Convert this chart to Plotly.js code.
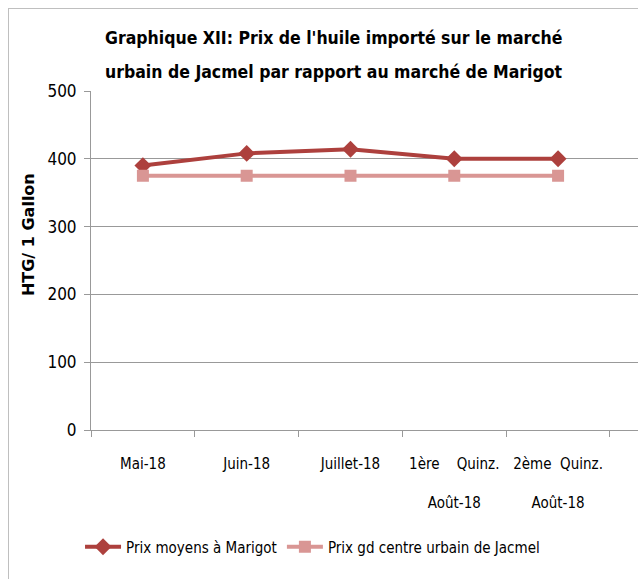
<!DOCTYPE html>
<html>
<head>
<meta charset="utf-8">
<script src="https://cdn.plot.ly/plotly-3.0.1.min.js"></script>
<style>
  html, body { margin: 0; padding: 0; background: #fff; }
  #chart { width: 638px; height: 579px; }
  #frame { position: absolute; left: 8px; top: 8px; width: 640px; height: 580px; border: 1px solid #bfbfbf; pointer-events: none; }
</style>
</head>
<body>
<div id="chart"></div>
<div id="frame"></div>
<script>
// categories and series
const periods = ['Mai-18', 'Juin-18', 'Juillet-18', '1ère\u00a0\u00a0\u00a0\u00a0Quinz.<br>\u00a0<br>Août-18', '2ème\u00a0\u00a0Quinz.<br>\u00a0<br>Août-18'];
const marigot = [390, 408, 414, 400, 400];
const jacmel = [375, 375, 375, 375, 375];
const titleLines = ["Graphique XII: Prix de l'huile importé sur le marché",
                    "urbain de Jacmel par rapport au marché de Marigot"];

const font = 'DejaVu Sans Condensed, Liberation Sans Narrow, sans-serif';

const data = [
    {
        x: periods,
        y: marigot,
        name: 'Prix moyens à Marigot',
        type: 'scatter',
        mode: 'lines+markers',
        line: { color: '#AD403D', width: 4 },
        marker: { symbol: 'diamond', size: 13, color: '#AD403D' }
    },
    {
        x: periods,
        y: jacmel,
        name: 'Prix gd centre urbain de Jacmel',
        type: 'scatter',
        mode: 'lines+markers',
        line: { color: '#D99694', width: 4 },
        marker: { symbol: 'square', size: 12, color: '#D99694' }
    }
];

// title drawn as two annotations to get the wide line spacing
const titleNotes = titleLines.map((t, i) => ({
    text: t,
    xref: 'paper', yref: 'paper',
    x: 0.445, y: 1 + (i === 0 ? 53 : 19) / 339,
    xanchor: 'center', yanchor: 'middle',
    showarrow: false,
    font: { family: font, size: 17.5, color: '#000', weight: 'bold' }
}));

const layout = {
    width: 638,
    height: 579,
    paper_bgcolor: '#fff',
    plot_bgcolor: '#fff',
    font: { family: font, color: '#000', size: 15 },
    margin: { t: 91, r: 0, b: 149, l: 91 },
    xaxis: {
        type: 'category',
        range: [-0.5, 4.77],
        tickson: 'boundaries',
        tickangle: 0,
        ticks: 'outside',
        ticklen: 6,
        tickcolor: '#999',
        showline: true,
        linecolor: '#999',
        showgrid: false,
        ticklabelstandoff: 20,
        tickfont: { family: font, size: 15 },
        fixedrange: true
    },
    yaxis: {
        range: [0, 500],
        dtick: 100,
        ticks: 'outside',
        ticklen: 6,
        tickcolor: '#999',
        showline: true,
        linecolor: '#999',
        gridcolor: '#999',
        zeroline: false,
        ticklabelstandoff: 4,
        tickfont: { family: font, size: 17 },
        fixedrange: true
    },
    annotations: titleNotes.concat([{
        text: 'HTG/ 1 Gallon',
        xref: 'paper', yref: 'paper',
        x: -0.1115, xanchor: 'center',
        y: 0.575, yanchor: 'middle',
        xshift: -2,
        textangle: -90,
        showarrow: false,
        font: { family: 'DejaVu Sans, sans-serif', size: 16, color: '#000', weight: 'bold' }
    }]),
    showlegend: true,
    legend: {
        orientation: 'h',
        x: 0.405, xanchor: 'center',
        y: -0.345, yanchor: 'middle',
        font: { family: font, size: 15 },
        itemwidth: 36,
        tracegroupgap: 0
    }
};

Plotly.newPlot('chart', data, layout, { displayModeBar: false, staticPlot: true });
</script>
</body>
</html>
